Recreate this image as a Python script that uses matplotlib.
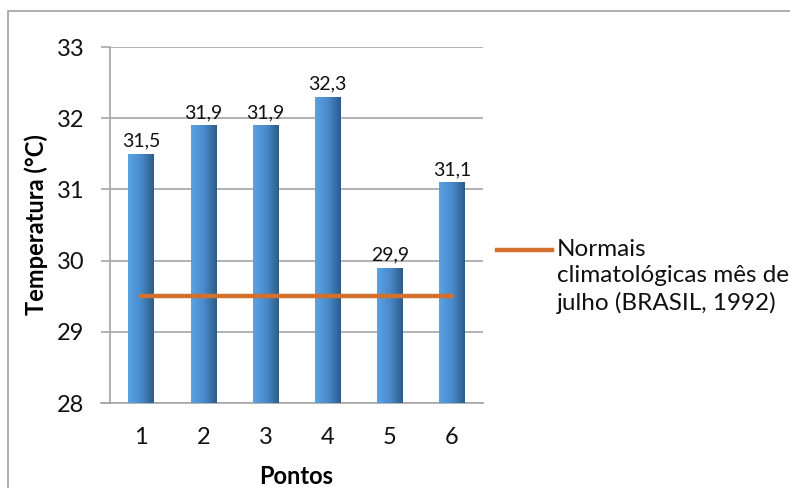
import matplotlib
matplotlib.use("Agg")
import matplotlib.pyplot as plt
import numpy as np
from matplotlib.lines import Line2D
from matplotlib.patches import Rectangle

# Data
pontos = ["1", "2", "3", "4", "5", "6"]
temperaturas = [31.5, 31.9, 31.9, 32.3, 29.9, 31.1]
rotulos = ["31,5", "31,9", "31,9", "32,3", "29,9", "31,1"]
normal_julho = [29.5, 29.5, 29.5, 29.5, 29.5, 29.5]
legenda = "Normais\nclimatológicas mês de\njulho (BRASIL, 1992)"
y_ticks = [28, 29, 30, 31, 32, 33]

plt.rcParams["font.family"] = ["Lato", "DejaVu Sans"]

W, H = 790, 488
fig = plt.figure(figsize=(W / 100, H / 100), dpi=100)
ax = fig.add_axes([110 / W, 85 / H, 373 / W, 356 / H])

y_min, y_max = y_ticks[0], y_ticks[-1]
x = np.arange(1, len(pontos) + 1)
alturas = [v - y_min for v in temperaturas]
bars = ax.bar(x, alturas, bottom=y_min, width=0.41, color="none", zorder=3)

# horizontal gradient fill for each bar
grad = np.linspace(0, 1, 256).reshape(1, -1)
cmap = matplotlib.colors.LinearSegmentedColormap.from_list(
    "azul", ["#5ba3e3", "#4a8acb", "#2c5c88"])
for b in bars:
    x0, y0 = b.get_x(), b.get_y()
    w, h = b.get_width(), b.get_height()
    im = ax.imshow(grad, extent=[x0, x0 + w, y0, y0 + h], cmap=cmap,
                   aspect="auto", zorder=3, interpolation="bicubic")
    clip = Rectangle((x0, y0), w, h, transform=ax.transData)
    im.set_clip_path(clip)

for xi, v, lab in zip(x, temperaturas, rotulos):
    ax.annotate(lab, (xi, v), xytext=(0, 3), textcoords="offset points",
                ha="center", va="bottom", fontsize=14, color="#111111",
                zorder=5)

linha, = ax.plot(x, normal_julho, color="#d4702d", lw=3.2,
                 solid_capstyle="round", zorder=4)

ax.set_xlim(0.5, 6.5)
ax.set_ylim(y_min, y_max)
ax.set_yticks(y_ticks)
ax.set_xticks(x)
ax.set_xticklabels(pontos)
ax.yaxis.grid(True, color="#a6a6a6", lw=1.2, zorder=0)
ax.set_axisbelow(True)
for s in ["top", "right"]:
    ax.spines[s].set_visible(False)
for s in ["left", "bottom"]:
    ax.spines[s].set_color("#a6a6a6")
    ax.spines[s].set_linewidth(1.2)
ax.tick_params(axis="y", length=6.5, width=1.2, color="#a6a6a6",
               labelsize=17, pad=12, labelcolor="#111111")
ax.tick_params(axis="x", length=0, labelsize=17, pad=17,
               labelcolor="#111111")
ax.set_xlabel("Pontos", fontsize=17, fontweight="bold", labelpad=12.5)
ax.set_ylabel("Temperatura (°C)", fontsize=17, fontweight="bold",
              labelpad=6)

# x-axis line extends left under the tick marks
ax.spines["bottom"].set_bounds(0.5 - 9 / 62.2, 6.5)

# legend, drawn in figure pixels
fig.add_artist(Line2D([497 / W, 552 / W], [1 - 250 / H, 1 - 250 / H],
                      color=linha.get_color(), lw=3.2, transform=fig.transFigure))
fig.text(557 / W, 1 - 239 / H, legenda, fontsize=17.5, va="top", ha="left",
         linespacing=1.3, color="#111111")

# outer border of the chart area
fig.add_artist(Rectangle((8 / W, -0.05), 1.1, 1 - 11 / H + 0.05,
                         transform=fig.transFigure, fill=False,
                         edgecolor="#a0a0a0", lw=1.2))

fig.savefig("out.png", dpi=100)
